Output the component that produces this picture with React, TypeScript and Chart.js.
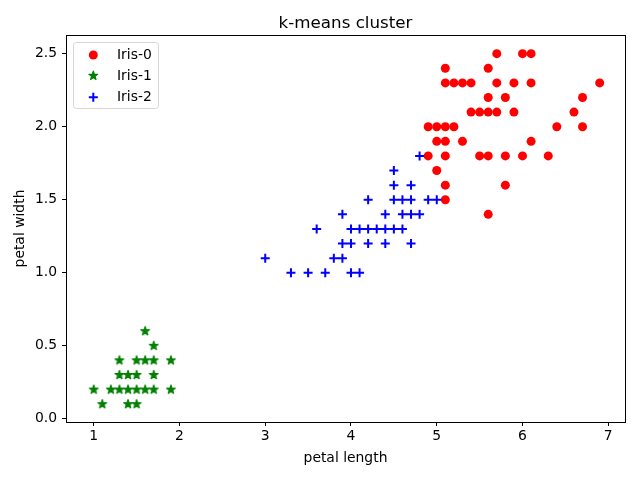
import React, { useEffect, useRef } from "react";
import { Chart, registerables } from "chart.js";

Chart.register(...registerables);

const TITLE = "k-means cluster";
const X_LABEL = "petal length";
const Y_LABEL = "petal width";
const SERIES_NAMES = ["Iris-0", "Iris-1", "Iris-2"];
const SERIES_COLORS = ["#ff0000", "#008000", "#0000ff"];

const X_TICKS = [1, 2, 3, 4, 5, 6, 7];
const Y_TICKS = [0.0, 0.5, 1.0, 1.5, 2.0, 2.5];

const iris0Length = [
  5.7, 6.0, 6.1,
  5.1, 5.6,
  5.1, 5.2, 5.3, 5.4, 5.7, 5.9, 6.1, 6.9,
  5.6, 5.8, 6.7,
  5.4, 5.5, 5.6, 5.7, 5.9, 6.6,
  4.9, 5.0, 5.1, 5.2, 6.4, 6.7,
  5.0, 5.1, 5.3, 6.1,
  4.9, 5.1, 5.5, 5.6, 5.8, 6.0, 6.3,
  5.0,
  5.1, 5.8,
  5.1,
  5.6,
];
const iris0Width = [
  2.5, 2.5, 2.5,
  2.4, 2.4,
  2.3, 2.3, 2.3, 2.3, 2.3, 2.3, 2.3, 2.3,
  2.2, 2.2, 2.2,
  2.1, 2.1, 2.1, 2.1, 2.1, 2.1,
  2.0, 2.0, 2.0, 2.0, 2.0, 2.0,
  1.9, 1.9, 1.9, 1.9,
  1.8, 1.8, 1.8, 1.8, 1.8, 1.8, 1.8,
  1.7,
  1.6, 1.6,
  1.5,
  1.4,
];

const iris1Length = [
  1.6,
  1.7,
  1.3, 1.5, 1.6, 1.7, 1.9,
  1.3, 1.4, 1.5, 1.7,
  1.0, 1.2, 1.3, 1.4, 1.5, 1.6, 1.7, 1.9,
  1.1, 1.4, 1.5,
];
const iris1Width = [
  0.6,
  0.5,
  0.4, 0.4, 0.4, 0.4, 0.4,
  0.3, 0.3, 0.3, 0.3,
  0.2, 0.2, 0.2, 0.2, 0.2, 0.2, 0.2, 0.2,
  0.1, 0.1, 0.1,
];

const iris2Length = [
  4.8,
  4.5,
  4.5, 4.7,
  4.2, 4.5, 4.6, 4.7, 4.9, 5.0,
  3.9, 4.4, 4.6, 4.7, 4.8,
  3.6, 4.0, 4.1, 4.2, 4.3, 4.4, 4.5, 4.6,
  3.9, 4.0, 4.2, 4.4, 4.7,
  3.0, 3.8, 3.9,
  3.3, 3.5, 3.7, 4.0, 4.1,
];
const iris2Width = [
  1.8,
  1.7,
  1.6, 1.6,
  1.5, 1.5, 1.5, 1.5, 1.5, 1.5,
  1.4, 1.4, 1.4, 1.4, 1.4,
  1.3, 1.3, 1.3, 1.3, 1.3, 1.3, 1.3, 1.3,
  1.2, 1.2, 1.2, 1.2, 1.2,
  1.1, 1.1, 1.1,
  1.0, 1.0, 1.0, 1.0, 1.0,
];

const FONT = "'DejaVu Sans', sans-serif";

function toPoints(xs: number[], ys: number[]) {
  return xs.map((x, i) => ({ x, y: ys[i] }));
}

function starPath(ctx: CanvasRenderingContext2D, cx: number, cy: number, R: number) {
  const r = R * 0.381966;
  ctx.beginPath();
  for (let i = 0; i < 10; i++) {
    const rad = i % 2 === 0 ? R : r;
    const a = -Math.PI / 2 + (i * Math.PI) / 5;
    const px = cx + rad * Math.cos(a);
    const py = cy + rad * Math.sin(a);
    if (i === 0) ctx.moveTo(px, py);
    else ctx.lineTo(px, py);
  }
  ctx.closePath();
}

function drawStar(ctx: CanvasRenderingContext2D, cx: number, cy: number, color: string) {
  ctx.save();
  starPath(ctx, cx, cy, 4.6);
  ctx.fillStyle = color;
  ctx.strokeStyle = color;
  ctx.lineWidth = 1.2;
  ctx.lineJoin = "round";
  ctx.fill();
  ctx.stroke();
  ctx.restore();
}

function makeStarImage(color: string) {
  const c = document.createElement("canvas");
  c.width = 14;
  c.height = 14;
  const ctx = c.getContext("2d")!;
  drawStar(ctx, 7, 7, color);
  return c;
}

function drawMarker(ctx: CanvasRenderingContext2D, kind: number, x: number, y: number) {
  const color = SERIES_COLORS[kind];
  ctx.save();
  if (kind === 0) {
    ctx.beginPath();
    ctx.arc(x, y, 4.5, 0, Math.PI * 2);
    ctx.fillStyle = color;
    ctx.fill();
  } else if (kind === 1) {
    drawStar(ctx, x, y, color);
  } else {
    ctx.strokeStyle = color;
    ctx.lineWidth = 2;
    ctx.beginPath();
    ctx.moveTo(x - 4.5, y);
    ctx.lineTo(x + 4.5, y);
    ctx.moveTo(x, y - 4.5);
    ctx.lineTo(x, y + 4.5);
    ctx.stroke();
  }
  ctx.restore();
}

const framePlugin = {
  id: "framePlugin",
  afterDatasetsDraw(chart: any) {
    const { ctx, chartArea } = chart;
    const l = Math.round(chartArea.left) + 0.5;
    const t = Math.round(chartArea.top) + 0.5;
    const r = Math.round(chartArea.right) + 0.5;
    const b = Math.round(chartArea.bottom) + 0.5;
    ctx.save();
    ctx.strokeStyle = "#000";
    ctx.lineWidth = 1;
    ctx.strokeRect(l, t, r - l, b - t);
    ctx.restore();
  },
  afterDraw(chart: any) {
    const { ctx, chartArea } = chart;
    ctx.save();
    // title
    ctx.fillStyle = "#000";
    ctx.font = `16.7px ${FONT}`;
    ctx.textAlign = "center";
    ctx.textBaseline = "alphabetic";
    ctx.fillText(TITLE, (chartArea.left + chartArea.right) / 2, 27.5);

    // legend
    const bx = 73.5, by = 42.5, bw = 85, bh = 66, rad = 3;
    ctx.beginPath();
    ctx.moveTo(bx + rad, by);
    ctx.lineTo(bx + bw - rad, by);
    ctx.quadraticCurveTo(bx + bw, by, bx + bw, by + rad);
    ctx.lineTo(bx + bw, by + bh - rad);
    ctx.quadraticCurveTo(bx + bw, by + bh, bx + bw - rad, by + bh);
    ctx.lineTo(bx + rad, by + bh);
    ctx.quadraticCurveTo(bx, by + bh, bx, by + bh - rad);
    ctx.lineTo(bx, by + rad);
    ctx.quadraticCurveTo(bx, by, bx + rad, by);
    ctx.closePath();
    ctx.fillStyle = "rgba(255,255,255,0.8)";
    ctx.fill();
    ctx.strokeStyle = "#d6d6d6";
    ctx.lineWidth = 1;
    ctx.stroke();

    const rows = [55, 75.7, 97.3];
    ctx.font = `13.9px ${FONT}`;
    ctx.textAlign = "left";
    ctx.textBaseline = "middle";
    SERIES_NAMES.forEach((name, i) => {
      drawMarker(ctx, i, 93.3, rows[i]);
      ctx.fillStyle = "#000";
      ctx.fillText(name, 117, rows[i] + 0.5);
    });
    ctx.restore();
  },
};

export default function App() {
  const ref = useRef<HTMLCanvasElement | null>(null);

  useEffect(() => {
    if (!ref.current) return;
    const starImg = makeStarImage(SERIES_COLORS[1]);
    const tickFont = { family: FONT, size: 13.9 };
    const chart = new Chart(ref.current, {
      type: "scatter",
      data: {
        datasets: [
          {
            label: SERIES_NAMES[0],
            data: toPoints(iris0Length, iris0Width),
            pointStyle: "circle",
            pointRadius: 4.5,
            pointBorderWidth: 0,
            backgroundColor: SERIES_COLORS[0],
            borderColor: SERIES_COLORS[0],
            order: 3,
          },
          {
            label: SERIES_NAMES[1],
            data: toPoints(iris1Length, iris1Width),
            pointStyle: starImg as any,
            pointRadius: 5,
            backgroundColor: SERIES_COLORS[1],
            borderColor: SERIES_COLORS[1],
            order: 2,
          },
          {
            label: SERIES_NAMES[2],
            data: toPoints(iris2Length, iris2Width),
            pointStyle: "cross",
            pointRadius: 4.5,
            pointBorderWidth: 2,
            backgroundColor: SERIES_COLORS[2],
            borderColor: SERIES_COLORS[2],
            order: 1,
          },
        ],
      },
      options: {
        responsive: false,
        animation: false,
        events: [],
        layout: { padding: { left: 0, right: 15, top: 35, bottom: 0 } },
        plugins: {
          legend: { display: false },
          title: { display: false },
          tooltip: { enabled: false },
        },
        scales: {
          x: {
            type: "linear",
            min: 0.677,
            max: 7.195,
            afterBuildTicks: (scale: any) => {
              scale.ticks = X_TICKS.map((v) => ({ value: v }));
            },
            afterFit: (scale: any) => {
              scale.height = 58;
            },
            ticks: {
              font: tickFont,
              color: "#000",
              padding: 2,
              maxRotation: 0,
              callback: (v: any) => String(v),
            },
            grid: {
              display: true,
              drawOnChartArea: false,
              drawTicks: true,
              tickLength: 4,
              color: "#000",
            },
            border: { display: false },
            title: {
              display: true,
              text: X_LABEL,
              font: tickFont,
              color: "#000",
              padding: { top: 0, bottom: 13.5 },
            },
          },
          y: {
            type: "linear",
            min: -0.022,
            max: 2.628,
            afterBuildTicks: (scale: any) => {
              scale.ticks = Y_TICKS.map((v) => ({ value: v }));
            },
            afterFit: (scale: any) => {
              scale.width = 66;
            },
            ticks: {
              font: tickFont,
              color: "#000",
              padding: 5,
              callback: (v: any) => Number(v).toFixed(1),
            },
            grid: {
              display: true,
              drawOnChartArea: false,
              drawTicks: true,
              tickLength: 4,
              color: "#000",
            },
            border: { display: false },
            title: {
              display: true,
              text: Y_LABEL,
              font: tickFont,
              color: "#000",
              padding: { top: 12.5, bottom: 0 },
            },
          },
        },
      },
      plugins: [framePlugin],
    });
    return () => chart.destroy();
  }, []);

  return (
    <div style={{ position: "absolute", left: 0, top: 0, width: 640, height: 480, background: "#fff" }}>
      <canvas ref={ref} width={640} height={480} />
    </div>
  );
}
